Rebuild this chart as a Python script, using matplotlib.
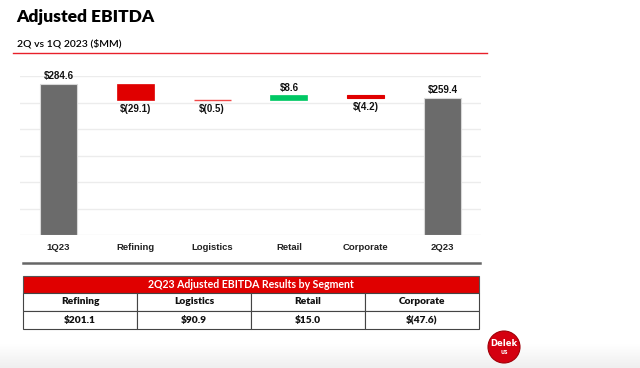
import numpy as np
import matplotlib
matplotlib.use('Agg')
import matplotlib.pyplot as plt
from matplotlib.patches import Rectangle, Circle

# Data

categories = ['1Q23', 'Refining', 'Logistics', 'Retail', 'Corporate', '2Q23']
start_value = 284.6
end_value = 259.4
changes = [-29.1, -0.5, 8.6, -4.2]

table_title = '2Q23 Adjusted EBITDA Results by Segment'
segments = ['Refining', 'Logistics', 'Retail', 'Corporate']
segment_values = ['$201.1', '$90.9', '$15.0', '$(47.6)']

GRAY = '#6b6b6b'
RED = '#e00000'
GREEN = '#00c864'
SANS = ['Liberation Sans', 'DejaVu Sans']


def money(v):
    return f"${v:.1f}" if v >= 0 else f"$({abs(v):.1f})"


# Waterfall geometry from the data

bottoms, heights, colors = [0.0], [start_value], [GRAY]
level = start_value
for c in changes:
    new_level = level + c
    bottoms.append(min(level, new_level))
    heights.append(abs(c))
    colors.append(GREEN if c > 0 else RED)
    level = new_level
bottoms.append(0.0)
heights.append(end_value)
colors.append(GRAY)

values = [start_value] + changes + [end_value]

fig = plt.figure(figsize=(6.4, 3.68), dpi=100)

# Faint gray shading at the bottom of the slide
grad = np.linspace(0, 1, 50).reshape(-1, 1)
bg = fig.add_axes([0, 0, 1, 24 / 368])
bg.imshow(grad, cmap=matplotlib.colors.LinearSegmentedColormap.from_list('g', ['#ffffff', '#efefef']),
          aspect='auto', extent=[0, 1, 0, 1])
bg.axis('off')

# Chart axes

ax = fig.add_axes([20 / 640, 1 - 235 / 368, 461 / 640, (235 - 76) / 368])
x = np.arange(len(categories))
edge = ['#d8d8d8', RED, '#f04848', GREEN, RED, '#d8d8d8']
lws = [0.8, 0.5, 1.0, 0.5, 0.8, 0.8]
for i in range(len(categories)):
    ax.bar(x[i], heights[i], bottom=bottoms[i], width=0.48, color=colors[i],
           edgecolor=edge[i], linewidth=lws[i], zorder=3)
    v = values[i]
    if i in (0, len(categories) - 1) or v > 0:
        ax.annotate(money(v), (x[i], bottoms[i] + heights[i]), xytext=(0, 2),
                    textcoords='offset points', ha='center', va='bottom',
                    fontsize=7, fontweight='bold', family=SANS, color='#111111')
    else:
        ax.annotate(money(v), (x[i], bottoms[i]), xytext=(0, -3),
                    textcoords='offset points', ha='center', va='top',
                    fontsize=7, fontweight='bold', family=SANS, color='#111111')

ax.set_xlim(-0.5, 5.5)
ax.set_ylim(0, 300)
ax.set_yticks(np.arange(0, 301, 50))
ax.yaxis.grid(True, color='#ececec', linewidth=1.0, zorder=0)
ax.set_axisbelow(True)
ax.tick_params(axis='y', left=False, labelleft=False)
ax.tick_params(axis='x', bottom=False, pad=2)
ax.set_xticks(x)
ax.set_xticklabels(categories, fontsize=6.8, fontweight='bold', family=SANS, color='#222222')
for s in ax.spines.values():
    s.set_visible(False)

# Decorations and table in pixel coordinates

ov = fig.add_axes([0, 0, 1, 1])
ov.set_xlim(0, 640)
ov.set_ylim(368, 0)
ov.axis('off')
ov.patch.set_alpha(0)

ov.text(16, 17, 'Adjusted EBITDA', fontsize=12.5, fontweight='heavy', family='Lato',
        ha='left', va='center', color='black')
ov.text(17, 44, '2Q vs 1Q 2023 ($MM)', fontsize=7.5, family='Lato', fontweight='semibold',
        ha='left', va='center', color='black')
ov.plot([13, 487], [53, 53], color='#e8202a', linewidth=1.0)
ov.plot([23, 480], [263, 263], color='#666666', linewidth=1.8)

tx0, tx1 = 23, 479
ov.add_patch(Rectangle((tx0, 276), tx1 - tx0, 17, facecolor=RED, edgecolor='#555555', linewidth=0.8))
ov.text((tx0 + tx1) / 2, 284.5, table_title, color='white', fontsize=7.6, family='Lato',
        fontweight='bold', ha='center', va='center')
colw = (tx1 - tx0) / len(segments)
for j, (seg, val) in enumerate(zip(segments, segment_values)):
    cx = tx0 + j * colw
    ov.add_patch(Rectangle((cx, 293), colw, 18, facecolor='white', edgecolor='#444444', linewidth=0.8))
    ov.add_patch(Rectangle((cx, 311), colw, 18, facecolor='white', edgecolor='#444444', linewidth=0.8))
    ov.text(cx + colw / 2, 302, seg, fontsize=7.3, family='Lato', fontweight='heavy',
            ha='center', va='center', color='#111111')
    ov.text(cx + colw / 2, 320, val, fontsize=7.3, family='Lato', fontweight='heavy',
            ha='center', va='center', color='#111111')

# Logo
ov.add_patch(Circle((504, 347), 16, facecolor='#d40010', edgecolor='#a00008', linewidth=0.8))
ov.text(504, 344, 'Delek', color='white', fontsize=6, fontweight='bold', ha='center', va='center')
ov.text(504, 353, 'US', color='white', fontsize=3.5, fontweight='bold', ha='center', va='center')

fig.savefig('out.png', dpi=100)
